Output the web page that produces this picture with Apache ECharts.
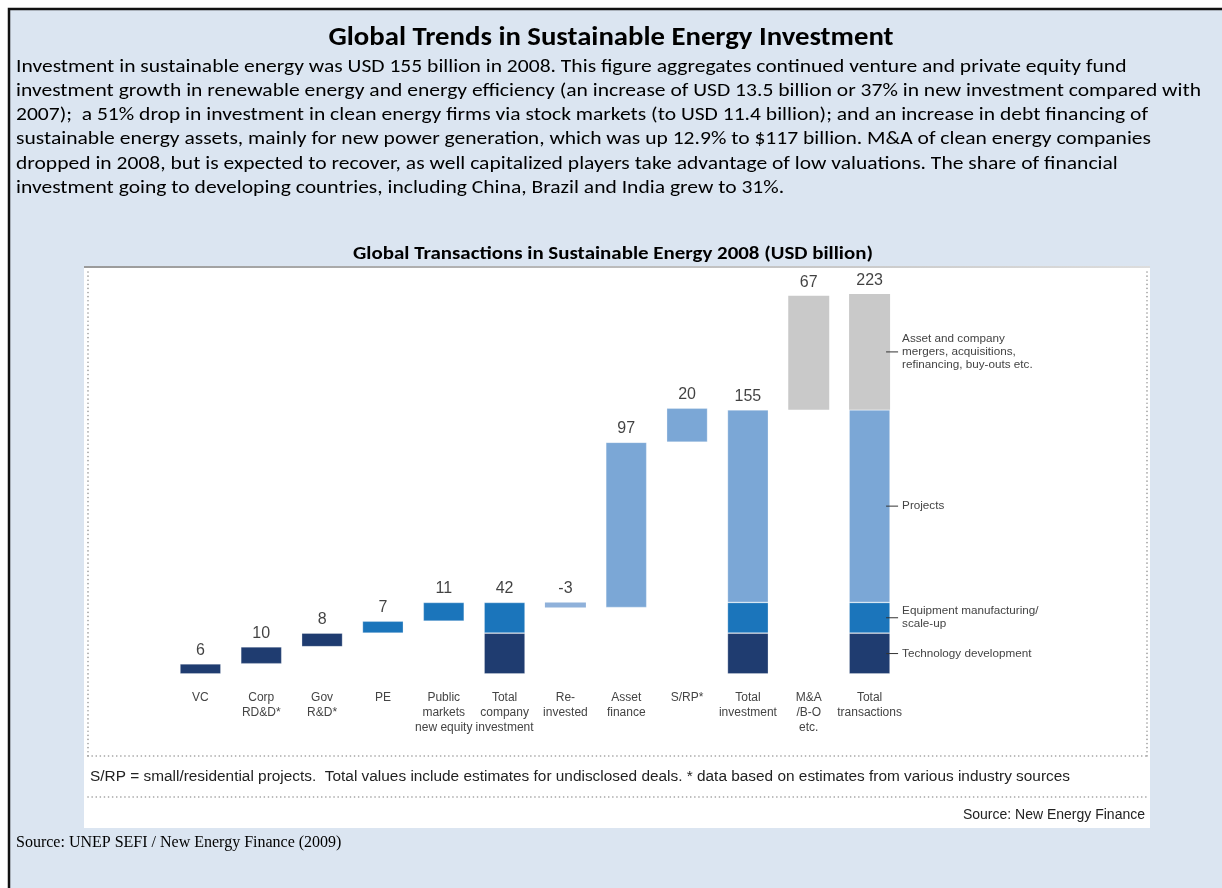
<!DOCTYPE html>
<html><head><meta charset="utf-8">
<script src="https://cdn.jsdelivr.net/npm/echarts@6/dist/echarts.min.js"></script>
<style>html,body{margin:0;padding:0;background:#fff;}#c{width:1222px;height:888px;}</style>
</head><body><div id="c"></div>
<script>
// ---------- data ----------
const categories = ['VC', 'Corp\nRD&D*', 'Gov\nR&D*', 'PE', 'Public\nmarkets\nnew equity', 'Total\ncompany\ninvestment', 'Re-\ninvested', 'Asset\nfinance', 'S/RP*', 'Total\ninvestment', 'M&A\n/B-O\netc.', 'Total\ntransactions'];
const valueLabels = ['6', '10', '8', '7', '11', '42', '-3', '97', '20', '155', '67', '223'];
const baseValues = [0, 6, 16, 24, 31, 0, 39, 39, 136, 0, 155, 0];
const techValues = [6, 10, 8, '-', '-', 24, '-', '-', '-', 24, '-', 24];
const equipValues = ['-', '-', '-', 7, 11, 18, '-', '-', '-', 18, '-', 18];
const reinvestValues = ['-', '-', '-', '-', '-', '-', 3, '-', '-', '-', '-', '-'];
const projectValues = ['-', '-', '-', '-', '-', '-', '-', 97, 20, 113, '-', 113];
const maValues = ['-', '-', '-', '-', '-', '-', '-', '-', '-', '-', 67, 68];
const annotationTexts = ['Technology development', 'Equipment manufacturing/\nscale-up', 'Projects', 'Asset and company\nmergers, acquisitions,\nrefinancing, buy-outs etc.'];

const paragraphLines = [
  'Investment in sustainable energy was USD 155 billion in 2008. This figure aggregates continued venture and private equity fund',
  'investment growth in renewable energy and energy efficiency (an increase of USD 13.5 billion or 37% in new investment compared with',
  '2007);  a 51% drop in investment in clean energy firms via stock markets (to USD 11.4 billion); and an increase in debt financing of',
  'sustainable energy assets, mainly for new power generation, which was up 12.9% to $117 billion. M&A of clean energy companies',
  'dropped in 2008, but is expected to recover, as well capitalized players take advantage of low valuations. The share of financial',
  'investment going to developing countries, including China, Brazil and India grew to 31%.'
];
const mainTitle = 'Global Trends in Sustainable Energy Investment';
const chartTitle = 'Global Transactions in Sustainable Energy 2008 (USD billion)';
const footnote = 'S/RP = small/residential projects.  Total values include estimates for undisclosed deals. * data based on estimates from various industry sources';
const innerSource = 'Source: New Energy Finance';
const outerSource = 'Source: UNEP SEFI / New Energy Finance (2009)';

// ---------- helpers ----------
const mctx = document.createElement('canvas').getContext('2d');
function measure(text, font) { mctx.font = font; return mctx.measureText(text).width; }

const CAL = 'Carlito, Lato, "Noto Sans", sans-serif';
const ARIAL = '"Liberation Sans", Arial, sans-serif';
const NARROW = '"Liberation Sans Narrow", "Liberation Sans", Arial, sans-serif';

const tops = baseValues.map((b, i) => {
  let s = b;
  [techValues, equipValues, reinvestValues, projectValues, maValues].forEach(a => { if (a[i] !== '-') s += a[i]; });
  return s;
});

const chart = echarts.init(document.getElementById('c'), null, { renderer: 'canvas', width: 1222, height: 888 });

const elems = [];
elems.push({ type: 'rect', z: 0, shape: { x: 9, y: 9, width: 1240, height: 900 }, style: { fill: '#dbe5f1', stroke: '#111', lineWidth: 2.5 } });
elems.push({ type: 'rect', z: 0, shape: { x: 84, y: 266, width: 1066, height: 562 }, style: { fill: '#ffffff' } });
elems.push({ type: 'line', z: 1, shape: { x1: 84, y1: 267, x2: 1150, y2: 267 }, style: { stroke: new echarts.graphic.LinearGradient(0, 0, 1, 0, [{ offset: 0, color: '#9a9a9a' }, { offset: 1, color: '#dddddd' }]), lineWidth: 2 } });
const dot = { stroke: '#9a9a9a', lineWidth: 1.6, lineDash: [0.1, 4], lineCap: 'round' };
elems.push({ type: 'line', z: 1, shape: { x1: 88, y1: 272, x2: 88, y2: 756 }, style: dot });
elems.push({ type: 'line', z: 1, shape: { x1: 1147, y1: 272, x2: 1147, y2: 756 }, style: dot });
elems.push({ type: 'line', z: 1, shape: { x1: 88, y1: 756, x2: 1147, y2: 756 }, style: dot });
elems.push({ type: 'line', z: 1, shape: { x1: 88, y1: 797, x2: 1147, y2: 797 }, style: dot });

function fitText(text, x, y, font, targetW, align, color) {
  const w = measure(text, font);
  const s = targetW ? targetW / w : 1;
  return { type: 'text', z: 10, x: x, y: y, scaleX: s, style: { text: text, x: 0, y: 0, font: font, fill: color || '#000', textAlign: align || 'left', textVerticalAlign: 'middle', align: align || 'left', verticalAlign: 'middle' } };
}
elems.push(fitText(mainTitle, 611, 38, 'bold 26px ' + CAL, 565, 'center'));
const pFont = '19px ' + CAL;
const pScale = 1185 / measure(paragraphLines[1], pFont);
paragraphLines.forEach((t, i) => {
  elems.push({ type: 'text', z: 10, x: 16, y: 67 + i * 24.2, scaleX: pScale, style: { text: t, x: 0, y: 0, font: pFont, fill: '#000', textAlign: 'left', textVerticalAlign: 'middle', align: 'left', verticalAlign: 'middle' } });
});
elems.push(fitText(chartTitle, 613, 255, 'bold 17px ' + CAL, 520, 'center'));
elems.push(fitText(footnote, 90, 777, '14px ' + NARROW, 980, 'left', '#222'));
elems.push(fitText(innerSource, 1145, 815, '14px ' + NARROW, 0, 'right', '#222'));
elems.push(fitText(outerSource, 16, 843, '16px "Liberation Serif", "Times New Roman", serif', 0, 'left', '#000'));

const barW = 41;
const option = {
  animation: false,
  backgroundColor: '#ffffff',
  grid: { left: 170, right: 322, top: 265, bottom: 214 },
  xAxis: {
    type: 'category', data: categories,
    axisLine: { show: false }, axisTick: { show: false },
    axisLabel: { interval: 0, margin: 16, fontSize: 12, lineHeight: 15, color: '#444', fontFamily: ARIAL, verticalAlign: 'top' }
  },
  yAxis: { type: 'value', min: 0, max: 240, show: false, splitLine: { show: false } },
  graphic: { elements: elems },
  series: [
    { name: 'base', type: 'bar', stack: 'w', barWidth: barW, silent: true, itemStyle: { color: 'rgba(0,0,0,0)' }, data: baseValues },
    { name: 'Technology development', type: 'bar', stack: 'w', barWidth: barW, itemStyle: { color: '#1f3c70', borderColor: 'rgba(255,255,255,0.35)', borderWidth: 0.8 }, data: techValues },
    { name: 'Equipment manufacturing', type: 'bar', stack: 'w', barWidth: barW, itemStyle: { color: '#1b75bb', borderColor: 'rgba(255,255,255,0.35)', borderWidth: 0.8 }, data: equipValues },
    { name: 'Re-invested', type: 'bar', stack: 'w', barWidth: barW, itemStyle: { color: '#8fb1da' }, data: reinvestValues },
    { name: 'Projects', type: 'bar', stack: 'w', barWidth: barW, itemStyle: { color: '#7ba7d6', borderColor: 'rgba(255,255,255,0.35)', borderWidth: 0.8 }, data: projectValues },
    { name: 'M&A', type: 'bar', stack: 'w', barWidth: barW, itemStyle: { color: '#c9c9c9' }, data: maValues },
    {
      name: 'labels', type: 'scatter', symbolSize: 1, z: 5, itemStyle: { color: 'rgba(0,0,0,0)' }, silent: true, data: tops,
      label: { show: true, position: 'top', distance: 5, fontSize: 16, color: '#111', fontFamily: ARIAL, formatter: p => valueLabels[p.dataIndex] }
    }
  ]
};
chart.setOption(option);

// annotations next to the last (Total transactions) bar, at the middle of each segment
const last = categories.length - 1;
const segs = [techValues[last], equipValues[last], projectValues[last], maValues[last]];
let acc = baseValues[last];
const ann = [];
segs.forEach((v, k) => {
  const mid = acc + v / 2; acc += v;
  const p = chart.convertToPixel({ gridIndex: 0 }, [last, mid]);
  const xr = p[0] + barW / 2;
  ann.push({ type: 'line', z: 10, shape: { x1: xr - 4, y1: p[1], x2: xr + 8, y2: p[1] }, style: { stroke: '#333', lineWidth: 1 } });
  ann.push({ type: 'text', z: 10, x: xr + 12, y: p[1], style: { text: annotationTexts[k], x: 0, y: 0, font: '11.7px ' + ARIAL, fill: '#444', lineHeight: 13, textAlign: 'left', textVerticalAlign: 'middle', align: 'left', verticalAlign: 'middle' } });
});
chart.setOption({ graphic: { elements: elems.concat(ann) } }, { replaceMerge: ['graphic'] });
</script></body></html>
